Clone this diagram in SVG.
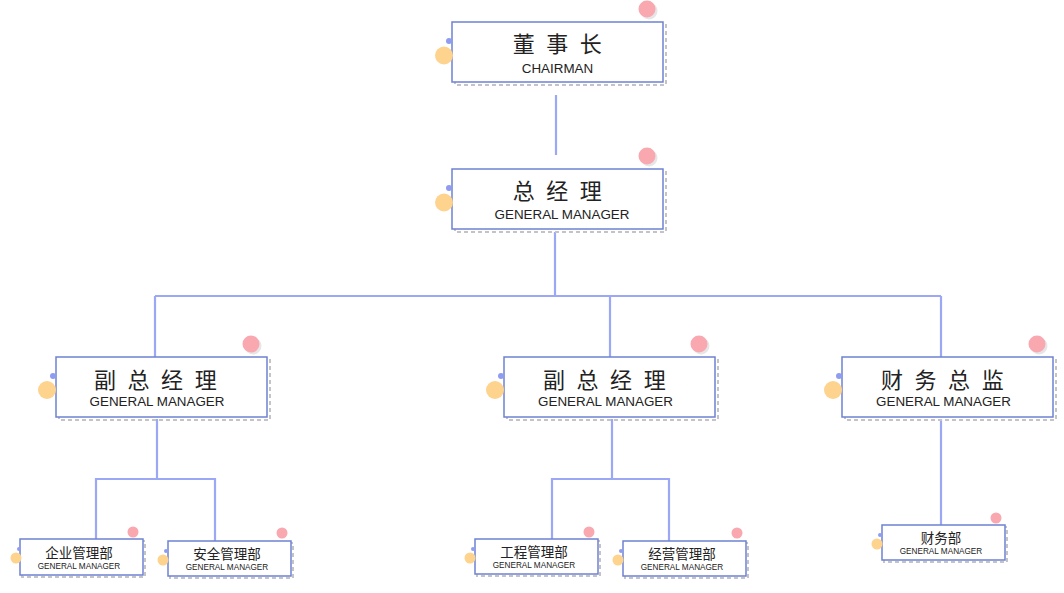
<svg xmlns="http://www.w3.org/2000/svg" width="1064" height="593" viewBox="0 0 1064 593">
<defs>
<style>
.box{fill:#ffffff;stroke:#6e82d2;stroke-width:1.5}
.sh{fill:none;stroke:#c4c4c8;stroke-width:2;stroke-dasharray:4 3}
.con{fill:none;stroke:#9ca8f6;stroke-width:2.2}
.pk{fill:#f9a8b0}
.pks{fill:#e6e6e8}
.or{fill:#fdd38e}
.bl{fill:#8f9cf0}
.cn{font-family:"Noto Sans CJK SC","Noto Sans CJK JP",sans-serif;fill:#222;text-anchor:middle}
.en{font-family:"Liberation Sans",Arial,sans-serif;fill:#222;text-anchor:middle}
.t1{font-size:22px;letter-spacing:3.3px}
.e1{font-size:13.4px}
.t2{font-size:13.5px}
.e2{font-size:8.2px}
</style>
</defs>
<g id="connectors">
<line class="con" x1="556" y1="95" x2="556" y2="155"/>
<line class="con" x1="555" y1="232" x2="555" y2="296"/>
<line class="con" x1="155" y1="296" x2="941" y2="296"/>
<line class="con" x1="155" y1="296" x2="155" y2="357"/>
<line class="con" x1="610" y1="296" x2="610" y2="357"/>
<line class="con" x1="941" y1="296" x2="941" y2="357"/>
<line class="con" x1="157" y1="419" x2="157" y2="479"/>
<polyline class="con" points="96,540 96,479 215,479 215,541"/>
<line class="con" x1="612" y1="419" x2="612" y2="479"/>
<polyline class="con" points="552,539 552,479 669,479 669,541"/>
<line class="con" x1="941" y1="419" x2="941" y2="525"/>
</g>
<g id="chairman">
<rect class="sh" x="455" y="25" width="211" height="60"/>
<rect class="box" x="452" y="22" width="211" height="60"/>
<circle class="pks" cx="649" cy="11" r="8.5"/>
<circle class="pk" cx="647" cy="9" r="8.5"/>
<circle class="bl" cx="449" cy="41" r="3"/>
<circle class="or" cx="444" cy="55.5" r="9"/>
<text class="cn t1" x="559" y="52">董 事 长</text>
<text class="en e1" x="557.5" y="72.5">CHAIRMAN</text>
</g>
<g id="gm">
<rect class="sh" x="455" y="172" width="211" height="60"/>
<rect class="box" x="452" y="169" width="211" height="60"/>
<circle class="pks" cx="649" cy="158" r="8.5"/>
<circle class="pk" cx="647" cy="156" r="8.5"/>
<circle class="bl" cx="449" cy="188" r="3"/>
<circle class="or" cx="444" cy="202.5" r="9"/>
<text class="cn t1" x="559" y="199">总 经 理</text>
<text class="en e1" x="562" y="219">GENERAL MANAGER</text>
</g>
<g id="vgm1">
<rect class="sh" x="59" y="360" width="211" height="60"/>
<rect class="box" x="56" y="357" width="211" height="60"/>
<circle class="pks" cx="253" cy="346" r="8.5"/>
<circle class="pk" cx="251" cy="344" r="8.5"/>
<circle class="bl" cx="53" cy="376" r="3"/>
<circle class="or" cx="47" cy="390" r="9"/>
<text class="cn t1" x="157" y="388">副 总 经 理</text>
<text class="en e1" x="157" y="406">GENERAL MANAGER</text>
</g>
<g id="vgm2">
<rect class="sh" x="507" y="360" width="211" height="60"/>
<rect class="box" x="504" y="357" width="211" height="60"/>
<circle class="pks" cx="701" cy="346" r="8.5"/>
<circle class="pk" cx="699" cy="344" r="8.5"/>
<circle class="bl" cx="501" cy="376" r="3"/>
<circle class="or" cx="495" cy="390" r="9"/>
<text class="cn t1" x="606" y="388">副 总 经 理</text>
<text class="en e1" x="605.5" y="406">GENERAL MANAGER</text>
</g>
<g id="cfo">
<rect class="sh" x="845" y="360" width="211" height="60"/>
<rect class="box" x="842" y="357" width="211" height="60"/>
<circle class="pks" cx="1039" cy="346" r="8.5"/>
<circle class="pk" cx="1037" cy="344" r="8.5"/>
<circle class="bl" cx="839" cy="376" r="3"/>
<circle class="or" cx="833" cy="390" r="9"/>
<text class="cn t1" x="944" y="388">财 务 总 监</text>
<text class="en e1" x="943.5" y="406">GENERAL MANAGER</text>
</g>
<g id="dept1">
<rect class="sh" x="22" y="541" width="123" height="36"/>
<rect class="box" x="20" y="539" width="123" height="36"/>
<circle class="pk" cx="133" cy="532" r="5.5"/>
<circle class="bl" cx="19" cy="549" r="2"/>
<circle class="or" cx="16" cy="558" r="5.5"/>
<text class="cn t2" x="79" y="558">企业管理部</text>
<text class="en e2" x="79" y="568.5">GENERAL MANAGER</text>
</g>
<g id="dept2">
<rect class="sh" x="170" y="543" width="123" height="35"/>
<rect class="box" x="168" y="541" width="123" height="35"/>
<circle class="pk" cx="282" cy="533" r="5.5"/>
<circle class="bl" cx="166" cy="551" r="2"/>
<circle class="or" cx="163" cy="560" r="5.5"/>
<text class="cn t2" x="227" y="559">安全管理部</text>
<text class="en e2" x="227" y="569.5">GENERAL MANAGER</text>
</g>
<g id="dept3">
<rect class="sh" x="477" y="541" width="123" height="35"/>
<rect class="box" x="475" y="539" width="123" height="35"/>
<circle class="pk" cx="589" cy="532" r="5.5"/>
<circle class="bl" cx="473" cy="549" r="2"/>
<circle class="or" cx="470" cy="558" r="5.5"/>
<text class="cn t2" x="534" y="557">工程管理部</text>
<text class="en e2" x="534" y="568">GENERAL MANAGER</text>
</g>
<g id="dept4">
<rect class="sh" x="625" y="543" width="123" height="35"/>
<rect class="box" x="623" y="541" width="123" height="35"/>
<circle class="pk" cx="737" cy="533" r="5.5"/>
<circle class="bl" cx="621" cy="551" r="2"/>
<circle class="or" cx="618" cy="560" r="5.5"/>
<text class="cn t2" x="682" y="559">经营管理部</text>
<text class="en e2" x="682" y="569.5">GENERAL MANAGER</text>
</g>
<g id="dept5">
<rect class="sh" x="884" y="527" width="123" height="35"/>
<rect class="box" x="882" y="525" width="123" height="35"/>
<circle class="pk" cx="996" cy="518" r="5.5"/>
<circle class="bl" cx="880" cy="535" r="2"/>
<circle class="or" cx="877" cy="544" r="5.5"/>
<text class="cn t2" x="941" y="543">财务部</text>
<text class="en e2" x="941" y="554">GENERAL MANAGER</text>
</g>
</svg>
